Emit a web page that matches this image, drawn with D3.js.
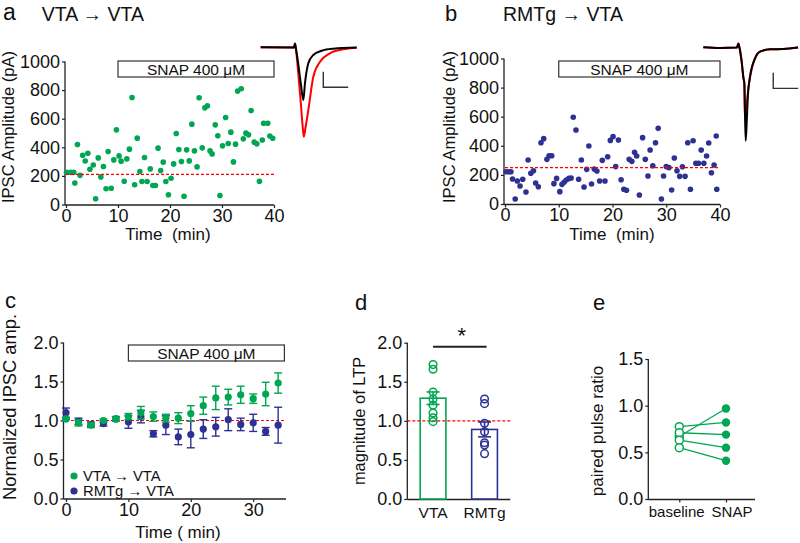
<!DOCTYPE html>
<html><head><meta charset="utf-8">
<script src="https://cdn.jsdelivr.net/npm/d3@7"></script>
<style>
body{margin:0;background:#fff;}
svg{display:block;font-family:"Liberation Sans",Arial,sans-serif;}
</style></head><body>
<svg id="chart" width="800" height="543"></svg>
<script>
// ---------------- DATA ----------------
const ampTicks = [0, 200, 400, 600, 800, 1000];
const timeTicksAB = [0, 10, 20, 30, 40];
const normTicks = [0, 0.5, 1.0, 1.5, 2.0];
const timeTicksC = [0, 10, 20, 30];
const pprTicks = [0, 0.5, 1.0, 1.5];

// panel a: VTA -> VTA single-cell IPSC amplitudes
const aTimes = [0.1,0.9,1.5,1.7,2.2,2.7,3.2,3.7,4.2,4.6,5.25,5.7,6.2,6.7,7.2,7.7,8.1,8.7,9.2,9.7,10.2,10.6,11.2,11.7,12.2,12.7,13.2,13.7,14.2,14.6,15.1,15.6,16.2,16.7,17.2,17.7,18.2,18.7,19.2,19.7,20.2,20.7,21.2,21.7,22.2,22.7,23.2,23.7,24.2,24.7,25.2,25.6,26.2,26.7,27.2,27.7,28.1,28.7,29.2,29.6,30.1,30.7,31.2,31.7,32.2,32.6,33.0,33.7,34.1,34.6,35.1,35.6,36.2,36.7,37.2,37.75,38.0,38.8,39.2,39.75];
const aAmps = [225,225,225,150,420,204,344,304,358,246,276,40,326,193,266,110,371,114,312,522,340,303,163,319,387,748,138,464,231,161,329,161,249,133,133,394,238,296,161,68,184,284,496,385,301,58,382,305,562,375,263,746,396,676,690,375,354,557,480,63,410,608,427,506,298,422,793,809,459,499,487,657,436,424,163,451,568,568,479,463];
const aBaseline = 210;

// panel b: RMTg -> VTA single-cell IPSC amplitudes
const bTimes = [0.2,0.7,1.1,1.4,1.9,2.3,2.8,3.3,3.9,4.3,4.8,5.3,5.7,6.2,6.7,7.2,7.8,8.2,8.7,9.1,9.6,10.2,10.6,11.0,11.4,11.9,12.3,12.7,13.2,13.7,14.2,14.7,15.2,15.6,16.1,16.6,17.1,17.6,18.1,18.6,19.1,19.6,20.1,20.6,21.1,21.6,22.1,22.6,23.1,23.6,24.1,24.5,25.0,25.6,26.1,26.6,27.0,27.5,28.0,28.5,29.1,29.5,30.0,30.5,31.0,31.5,32.0,32.5,33.0,33.5,34.0,34.5,35.0,35.5,36.0,36.5,37.0,37.5,37.9,38.4,38.9,39.3,39.4];
const bAmps = [222,222,222,172,34,158,124,170,82,302,211,229,144,119,421,449,307,332,332,140,176,85,135,149,165,176,179,596,509,170,302,117,238,399,137,240,227,158,300,158,325,437,463,257,440,167,101,94,307,293,355,330,62,456,307,192,371,263,421,520,34,192,257,250,96,316,229,190,256,190,421,101,435,280,280,371,280,330,419,215,268,467,101];
const bBaseline = 250;

// example traces (ms, pA)
const traceA_t     = [0, 26.7, 27.5, 28.1, 29.9, 32.3, 34.2, 35.5, 38.2, 42.2, 48.9, 58.2, 77];
const traceA_black = [0, -3, 49, -3, -188, -483, -676, -462, -205, -99, -44, -18, -3];
const traceA_rt    = [0, 26.7, 27.5, 28.1, 29.9, 32.3, 33.9, 34.6, 35.9, 38.2, 42.2, 47.6, 55.6, 66.2, 77];
const traceA_red   = [0, -3, 49, -3, -291, -740, -1060, -1146, -1035, -804, -377, -185, -77, -26, -5];
const traceB_t     = [0, 13.4, 27, 28.1, 29, 30.8, 32.2, 32.9, 33.4, 34.0, 34.9, 35.8, 37.5, 41.5, 45.5, 53.5, 64.2, 76];
const traceB_black = [0, -9, -3, 49, -3, -188, -394, -458, -804, -1197, -932, -612, -377, -141, -56, -26, -22, -3];
const traceB_rt    = [0, 13.4, 27, 28.1, 29, 30.8, 32.2, 32.9, 33.4, 34.5, 35.8, 37.5, 41.5, 45.5, 53.5, 64.2, 76];
const traceB_red   = [0, -9, -3, 49, -3, -188, -394, -458, -932, -778, -573, -377, -141, -56, -26, -22, -3];

// panel c: normalized time course (mean ± SEM)
const cTimes = [0,2,4,6,8,10,12,14,16,18,20,22,24,26,28,30,32,34];
const cVTA     = [1.02,0.97,0.94,1.00,1.02,1.05,1.10,1.05,1.03,1.03,1.09,1.19,1.29,1.30,1.33,1.28,1.34,1.48];
const cVTAerr  = [0.01,0.04,0.03,0.02,0.03,0.04,0.08,0.06,0.05,0.07,0.10,0.11,0.15,0.10,0.11,0.06,0.15,0.13];
const cRMTg    = [1.10,0.99,0.95,0.96,1.02,0.98,1.05,0.83,0.94,0.79,0.82,0.89,0.92,1.01,0.95,0.97,0.86,0.94];
const cRMTgErr = [0.06,0.04,0.03,0.03,0.03,0.08,0.08,0.04,0.12,0.10,0.17,0.12,0.12,0.14,0.08,0.11,0.05,0.23];

// panel d: magnitude of LTP
const ltpGroups = ["VTA", "RMTg"];
const ltpVTA  = [1.72,1.66,1.37,1.28,1.20,1.10,1.04,0.99];
const ltpRMTg = [1.28,1.22,0.97,0.86,0.72,0.69,0.58];
const ltpMeans = [1.29, 0.89];
const ltpSem   = [0.08, 0.095];

// panel e: paired pulse ratio
const pprConds = ["baseline", "SNAP"];
const pprBaseline = [0.775,0.67,0.71,0.63,0.55];
const pprSnap     = [0.82,0.97,0.69,0.55,0.41];

// ---------------- STYLE ----------------
const GREEN = "#00a651", BLUE = "#2e3192", RED = "#ff0000", AX = "#222";
const FONT = "'Liberation Sans', Arial, sans-serif";
const svg = d3.select("#chart");

function styleAxis(g, fs) {
  g.attr("font-family", FONT).attr("font-size", fs);
  g.select(".domain").remove();
  g.selectAll(".tick line").attr("stroke", AX).attr("stroke-width", 1.2);
  g.selectAll(".tick text").attr("fill", "#111");
}
function hline(x1, x2, y, color, w, dash) {
  const l = svg.append("line").attr("x1", x1).attr("x2", x2).attr("y1", y).attr("y2", y)
    .attr("stroke", color).attr("stroke-width", w);
  if (dash) l.attr("stroke-dasharray", dash);
  return l;
}
function vline(x, y1, y2, color, w) {
  return svg.append("line").attr("x1", x).attr("x2", x).attr("y1", y1).attr("y2", y2)
    .attr("stroke", color).attr("stroke-width", w);
}
function text(x, y, s, fs, anchor) {
  return svg.append("text").attr("x", x).attr("y", y).text(s)
    .attr("font-size", fs).attr("font-family", FONT).attr("fill", "#111")
    .attr("text-anchor", anchor || "start").style("white-space", "pre");
}
function vtext(x, y, s, fs) {
  return svg.append("text").attr("transform", `translate(${x},${y}) rotate(-90)`)
    .text(s).attr("font-size", fs).attr("font-family", FONT).attr("fill", "#111")
    .attr("text-anchor", "middle");
}
function snapBox(x, x1, x2, y1, y2) {
  svg.append("rect").attr("x", x(x1)).attr("y", y1).attr("width", x(x2) - x(x1)).attr("height", y2 - y1)
    .attr("fill", "#fff").attr("stroke", "#333").attr("stroke-width", 1.2);
  text((x(x1) + x(x2)) / 2, (y1 + y2) / 2 + 5.5, "SNAP 400 μM", 15.5, "middle");
}

// ---------------- PANELS a & b ----------------
function scatterPanel(opt) {
  const x = d3.scaleLinear().domain([0, 40]).range(opt.xr);
  const y = d3.scaleLinear().domain([0, 1000]).range(opt.yr);
  const gy = svg.append("g").attr("transform", `translate(${opt.ax},0)`)
    .call(d3.axisLeft(y).tickValues(ampTicks).tickSize(3).tickPadding(2).tickFormat(d3.format("d")));
  styleAxis(gy, 18);
  const gx = svg.append("g").attr("transform", `translate(0,${y(0) + 0.5})`)
    .call(d3.axisBottom(x).tickValues(timeTicksAB).tickSize(3).tickPadding(1).tickFormat(d3.format("d")));
  styleAxis(gx, 18);
  vline(opt.ax, y(1000), y(0) + 0.5, AX, 1.3);
  hline(opt.ax, x(40), y(0) + 0.5, AX, 1.3);
  svg.append("g").selectAll("circle").data(opt.t).join("circle")
    .attr("cx", d => x(d)).attr("cy", (d, i) => y(opt.v[i])).attr("r", 2.8).attr("fill", opt.color);
  hline(x(0), x(40), y(opt.base), RED, 1.2, "3,2");
  snapBox(x, 10, 40, opt.boxY[0], opt.boxY[1]);
  vtext(opt.ylabX, 127, "IPSC Amplitude (pA)", 16.6);
  text(opt.xlabX, 239.5, "Time  (min)", 17, "middle");
}
scatterPanel({xr: [66, 274], yr: [204.5, 61.5], ax: 65, t: aTimes, v: aAmps, color: GREEN, base: aBaseline,
  boxY: [61, 77], ylabX: 13.5, xlabX: 168});
scatterPanel({xr: [505, 720], yr: [204, 58.5], ax: 504, t: bTimes, v: bAmps, color: BLUE, base: bBaseline,
  boxY: [61, 77], ylabX: 455, xlabX: 612});

text(3, 20, "a", 23);
text(41.7, 20.7, "VTA → VTA", 19.5);
text(445, 20.7, "b", 22);
text(503, 20.7, "RMTg → VTA", 19.5);

// traces
function trace(opt) {
  const x = d3.scaleLinear().domain([0, 77]).range(opt.xr);
  const y = d3.scaleLinear().domain([0, -1000]).range([47.3, 125.3]);
  const line = d3.line().x(d => x(d[0])).y(d => y(d[1])).curve(d3.curveMonotoneX);
  [[opt.rt, opt.red, RED], [opt.bt, opt.black, "#000"]].forEach(([tt, vv, c]) => {
    svg.append("path").attr("d", line(tt.map((t, i) => [t, vv[i]])))
      .attr("fill", "none").attr("stroke", c).attr("stroke-width", 2).attr("stroke-linejoin", "round");
  });
  // scale bar 20 ms / 200 pA
  const sx = x(opt.barT), sy1 = y(opt.barA), sy2 = y(opt.barA - 200);
  svg.append("path").attr("d", `M${sx},${sy1}V${sy2}H${x(opt.barT + 20)}`)
    .attr("fill", "none").attr("stroke", "#333").attr("stroke-width", 1.4);
}
trace({xr: [260.7, 356.7], bt: traceA_t, black: traceA_black, rt: traceA_rt, red: traceA_red, barT: 50.2, barA: -313});
trace({xr: [703.3, 799.3], bt: traceB_t, black: traceB_black, rt: traceB_rt, red: traceB_red, barT: 56.1, barA: -326});

// ---------------- PANEL c ----------------
(function () {
  const x = d3.scaleLinear().domain([0, 35]).range([66, 284.4]);
  const y = d3.scaleLinear().domain([0, 2]).range([498.5, 342.5]);
  const ax = 63.5;
  const gy = svg.append("g").attr("transform", `translate(${ax},0)`)
    .call(d3.axisLeft(y).tickValues(normTicks).tickSize(3).tickPadding(2).tickFormat(d3.format(".1f")));
  styleAxis(gy, 18);
  const gx = svg.append("g").attr("transform", `translate(0,${y(0) + 0.5})`)
    .call(d3.axisBottom(x).tickValues(timeTicksC).tickSize(3).tickPadding(1).tickFormat(d3.format("d")));
  styleAxis(gx, 18);
  vline(ax, y(2), y(0) + 0.5, AX, 1.3);
  hline(ax, 286, y(0) + 0.5, AX, 1.3);
  snapBox(x, 10, 35, 345, 361);
  hline(x(0), 286, y(1), RED, 1.2, "3,2");
  function series(m, e, col) {
    const g = svg.append("g");
    cTimes.forEach((t, i) => {
      const cx = x(t), top = y(m[i] + e[i]), bot = y(m[i] - e[i]);
      g.append("line").attr("x1", cx).attr("x2", cx).attr("y1", top).attr("y2", bot).attr("stroke", col).attr("stroke-width", 1.4);
      g.append("line").attr("x1", cx - 4).attr("x2", cx + 4).attr("y1", top).attr("y2", top).attr("stroke", col).attr("stroke-width", 1.4);
      g.append("line").attr("x1", cx - 4).attr("x2", cx + 4).attr("y1", bot).attr("y2", bot).attr("stroke", col).attr("stroke-width", 1.4);
      g.append("circle").attr("cx", cx).attr("cy", y(m[i])).attr("r", 3.6).attr("fill", col);
    });
  }
  series(cRMTg, cRMTgErr, BLUE);
  series(cVTA, cVTAerr, GREEN);
  svg.append("circle").attr("cx", 74).attr("cy", 476).attr("r", 3.6).attr("fill", GREEN);
  svg.append("circle").attr("cx", 74).attr("cy", 491).attr("r", 3.6).attr("fill", BLUE);
  text(83, 481, "VTA → VTA", 14.8);
  text(83, 496, "RMTg → VTA", 14.8);
  vtext(15.5, 407, "Normalized IPSC amp.", 18.3);
  text(178, 538, "Time ( min)", 17, "middle");
  text(5, 308, "c", 22);
})();

// ---------------- PANEL d ----------------
(function () {
  const x = d3.scaleBand().domain(ltpGroups).range([407.3, 510.3]).paddingInner(0.5).paddingOuter(0.25);
  const y = d3.scaleLinear().domain([0, 2]).range([499, 342.7]);
  const ax = 407.3;
  const gy = svg.append("g").attr("transform", `translate(${ax},0)`)
    .call(d3.axisLeft(y).tickValues(normTicks).tickSize(3).tickPadding(2).tickFormat(d3.format(".1f")));
  styleAxis(gy, 18);
  const gx = svg.append("g").attr("transform", `translate(0,${y(0) + 0.5})`)
    .call(d3.axisBottom(x).tickSize(0).tickPadding(7));
  styleAxis(gx, 15.5);
  vline(ax, y(2), y(0) + 0.5, AX, 1.3);
  hline(ax, 510.3, y(0) + 0.5, AX, 1.3);
  const cols = [GREEN, BLUE];
  const pts = [ltpVTA, ltpRMTg];
  ltpGroups.forEach((gname, i) => {
    svg.append("rect").attr("x", x(gname)).attr("y", y(ltpMeans[i])).attr("width", x.bandwidth())
      .attr("height", y(0) - y(ltpMeans[i])).attr("fill", "#fff").attr("stroke", cols[i]).attr("stroke-width", 1.6);
  });
  hline(ax, 510.3, y(1), RED, 1.2, "3,2");
  ltpGroups.forEach((gname, i) => {
    const cx = x(gname) + x.bandwidth() / 2;
    pts[i].forEach(v => {
      svg.append("circle").attr("cx", cx).attr("cy", y(v)).attr("r", 3.8)
        .attr("fill", "none").attr("stroke", cols[i]).attr("stroke-width", 1.5);
    });
    const top = y(ltpMeans[i] + ltpSem[i]), bot = y(ltpMeans[i] - ltpSem[i]);
    vline(cx, top, bot, cols[i], 1.6);
    hline(cx - 6.5, cx + 6.5, top, cols[i], 1.6);
    hline(cx - 6.5, cx + 6.5, bot, cols[i], 1.6);
  });
  const c0 = x("VTA") + x.bandwidth() / 2, c1 = x("RMTg") + x.bandwidth() / 2;
  hline(c0, c1 + 2, 346.7, "#222", 2);
  text((c0 + c1) / 2 + 3, 343, "*", 22, "middle");
  vtext(365, 421, "magnitude of LTP", 16.4);
  text(355, 310, "d", 22);
})();

// ---------------- PANEL e ----------------
(function () {
  const x = d3.scalePoint().domain(pprConds).range([679.3, 726]);
  const y = d3.scaleLinear().domain([0, 1.5]).range([499, 359]);
  const ax = 648.3;
  const gy = svg.append("g").attr("transform", `translate(${ax},0)`)
    .call(d3.axisLeft(y).tickValues(pprTicks).tickSize(3).tickPadding(2).tickFormat(d3.format(".1f")));
  styleAxis(gy, 18);
  const gx = svg.append("g").attr("transform", `translate(0,${y(0) + 0.5})`)
    .call(d3.axisBottom(x).tickSize(3).tickFormat(""));
  styleAxis(gx, 15);
  // category labels, offset outward as in the original figure
  text(x("baseline") - 2.6, 517, "baseline", 15, "middle");
  text(x("SNAP") + 6, 517, "SNAP", 15, "middle");
  vline(ax, y(1.5), y(0) + 0.5, AX, 1.3);
  hline(ax, 755, y(0) + 0.5, AX, 1.3);
  pprBaseline.forEach((b, i) => {
    svg.append("line").attr("x1", x("baseline")).attr("y1", y(b)).attr("x2", x("SNAP")).attr("y2", y(pprSnap[i]))
      .attr("stroke", GREEN).attr("stroke-width", 1.3);
  });
  pprBaseline.forEach(b => svg.append("circle").attr("cx", x("baseline")).attr("cy", y(b)).attr("r", 4)
    .attr("fill", "#fff").attr("stroke", GREEN).attr("stroke-width", 1.5));
  pprSnap.forEach(s => svg.append("circle").attr("cx", x("SNAP")).attr("cy", y(s)).attr("r", 4.2).attr("fill", GREEN));
  vtext(603, 431, "paired pulse ratio", 17);
  text(593, 310, "e", 22);
})();
</script>
</body></html>
